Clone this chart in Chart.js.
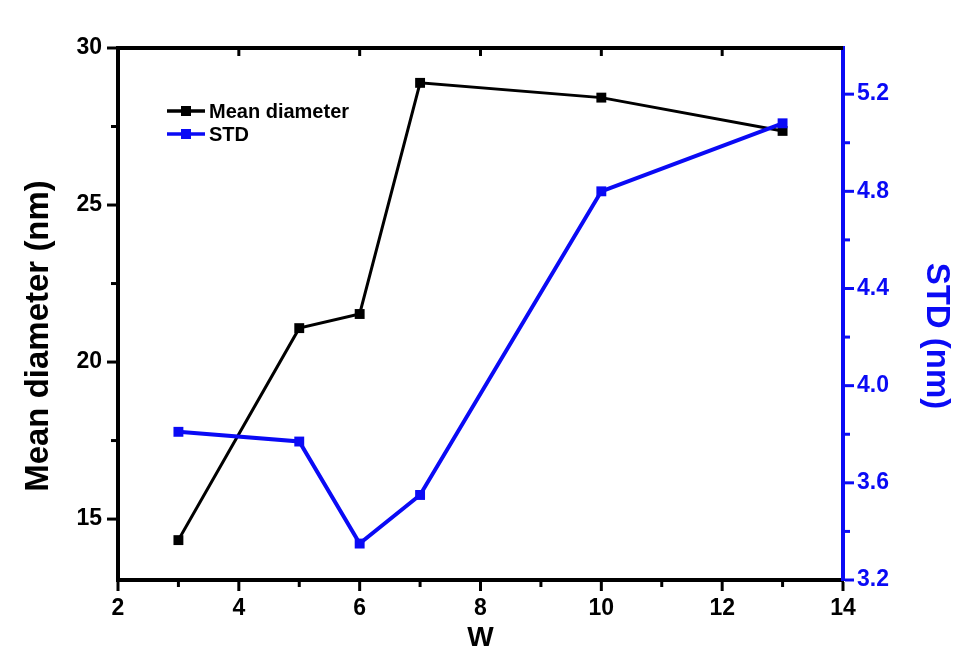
<!DOCTYPE html>
<html>
<head>
<meta charset="utf-8">
<script src="https://cdn.jsdelivr.net/npm/chart.js@4/dist/chart.umd.min.js"></script>
<style>
  html, body { margin: 0; padding: 0; background: #fff; }
  #wrap { position: relative; width: 970px; height: 666px; }
</style>
</head>
<body>
<div id="wrap"><canvas id="chart" width="970" height="666"></canvas></div>
<script>
// values
const wValues = [3, 5, 6, 7, 10, 13];
const meanDiameter = [14.33, 21.08, 21.53, 28.89, 28.42, 27.36];
const stdValues = [3.81, 3.77, 3.35, 3.55, 4.80, 5.08];

const xMajorTicks = [2, 4, 6, 8, 10, 12, 14];
const xMinorTicks = [3, 5, 7, 9, 11, 13];
const leftMajorTicks = [15, 20, 25, 30];
const leftMinorTicks = [17.5, 22.5, 27.5];
const rightMajorTicks = [3.2, 3.6, 4.0, 4.4, 4.8, 5.2];
const rightMinorTicks = [3.4, 3.8, 4.2, 4.6, 5.0];

const BLUE = '#0a0af5';
const FONT = '"Liberation Sans", Arial, sans-serif';

// outward major/minor ticks, the top frame line, and the two y titles
const tickMarks = {
  id: 'tickMarks',
  afterDraw(chart) {
    const { ctx, chartArea } = chart;
    const { x, y, y1 } = chart.scales;
    ctx.save();
    ctx.lineCap = 'butt';

    function mark(x0, y0, x1, y1c, color, width) {
      ctx.strokeStyle = color;
      ctx.lineWidth = width;
      ctx.beginPath();
      ctx.moveTo(x0, y0);
      ctx.lineTo(x1, y1c);
      ctx.stroke();
    }

    // top frame
    mark(chartArea.left - 2, chartArea.top, chartArea.right, chartArea.top, '#000', 4);

    const bottom = chartArea.bottom + 2;
    xMajorTicks.forEach(v => {
      const px = x.getPixelForValue(v);
      mark(px, bottom, px, bottom + 9, '#000', 3);
    });
    xMinorTicks.forEach(v => {
      const px = x.getPixelForValue(v);
      mark(px, bottom, px, bottom + 5, '#000', 3);
    });
    xMajorTicks.slice(1, -1).forEach(v => {
      const px = x.getPixelForValue(v);
      mark(px, chartArea.top, px, chartArea.top + 8, '#000', 3);
    });

    const left = chartArea.left - 2;
    leftMajorTicks.forEach(v => {
      const py = y.getPixelForValue(v);
      mark(left, py, left - 9, py, '#000', 3);
    });
    leftMinorTicks.forEach(v => {
      const py = y.getPixelForValue(v);
      mark(left, py, left - 5, py, '#000', 3);
    });

    const right = chartArea.right + 2;
    rightMajorTicks.forEach(v => {
      const py = y1.getPixelForValue(v);
      mark(right, py, right + 9, py, BLUE, 3);
    });
    rightMinorTicks.forEach(v => {
      const py = y1.getPixelForValue(v);
      mark(right, py, right + 5, py, BLUE, 3);
    });

    // y titles sit a little below the middle of the axes, as in the figure
    const midY = (chartArea.top + chartArea.bottom) / 2 + 22;
    ctx.font = 'bold 33px ' + FONT;
    ctx.textAlign = 'center';
    ctx.textBaseline = 'middle';

    ctx.save();
    ctx.translate(39, midY);
    ctx.rotate(-Math.PI / 2);
    ctx.fillStyle = '#000';
    ctx.fillText('Mean diameter (nm)', 0, 0);
    ctx.restore();

    ctx.save();
    ctx.translate(936, midY);
    ctx.rotate(Math.PI / 2);
    ctx.fillStyle = BLUE;
    ctx.fillText('STD (nm)', 0, 0);
    ctx.restore();

    ctx.restore();
  }
};

// legend sitting inside the plot, top-left
const innerLegend = {
  id: 'innerLegend',
  afterDatasetsDraw(chart) {
    const { ctx } = chart;
    const rows = [
      { ds: chart.data.datasets[0], y: 111 },
      { ds: chart.data.datasets[1], y: 134 }
    ];
    ctx.save();
    rows.forEach(row => {
      const color = row.ds.borderColor;
      ctx.strokeStyle = color;
      ctx.fillStyle = color;
      ctx.lineWidth = 3.5;
      ctx.beginPath();
      ctx.moveTo(167, row.y);
      ctx.lineTo(205, row.y);
      ctx.stroke();
      ctx.fillRect(181, row.y - 5, 10, 10);
      ctx.fillStyle = '#000';
      ctx.font = 'bold 20px ' + FONT;
      ctx.textBaseline = 'middle';
      ctx.textAlign = 'left';
      ctx.fillText(row.ds.label, 209, row.y + 1);
    });
    ctx.restore();
  }
};

const toPoints = (xs, ys) => xs.map((w, i) => ({ x: w, y: ys[i] }));

new Chart(document.getElementById('chart'), {
  type: 'line',
  data: {
    datasets: [
      {
        label: 'Mean diameter',
        data: toPoints(wValues, meanDiameter),
        yAxisID: 'y',
        borderColor: '#000',
        backgroundColor: '#000',
        borderWidth: 3,
        pointStyle: 'rect',
        pointRadius: 7,
        pointBorderWidth: 0,
        order: 1
      },
      {
        label: 'STD',
        data: toPoints(wValues, stdValues),
        yAxisID: 'y1',
        borderColor: BLUE,
        backgroundColor: BLUE,
        borderWidth: 4,
        pointStyle: 'rect',
        pointRadius: 7,
        pointBorderWidth: 0,
        order: 0
      }
    ]
  },
  options: {
    responsive: false,
    animation: false,
    layout: { padding: { top: 48, left: 0, right: 0, bottom: 0 } },
    plugins: {
      legend: { display: false },
      tooltip: { enabled: false }
    },
    scales: {
      x: {
        type: 'linear',
        position: 'bottom',
        min: 2,
        max: 14,
        afterBuildTicks: scale => { scale.ticks = xMajorTicks.map(v => ({ value: v })); },
        afterFit: scale => { scale.height = 86; },
        border: { display: true, color: '#000', width: 4 },
        grid: { drawOnChartArea: false, drawTicks: true, tickLength: 9, color: 'rgba(0,0,0,0)' },
        ticks: {
          color: '#000',
          padding: 6,
          maxRotation: 0,
          autoSkip: false,
          font: { family: FONT, size: 23, weight: 'bold' },
          callback: v => String(v)
        },
        title: {
          display: true,
          text: 'W',
          color: '#000',
          font: { family: FONT, size: 28, weight: 'bold' },
          padding: { top: 0, bottom: 11 }
        }
      },
      y: {
        type: 'linear',
        position: 'left',
        min: 13.06,
        max: 30,
        afterBuildTicks: scale => { scale.ticks = leftMajorTicks.map(v => ({ value: v })); },
        afterFit: scale => { scale.width = 118; },
        border: { display: true, color: '#000', width: 4 },
        grid: { drawOnChartArea: false, drawTicks: true, tickLength: 9, color: 'rgba(0,0,0,0)' },
        ticks: {
          color: '#000',
          padding: 7,
          autoSkip: false,
          font: { family: FONT, size: 23, weight: 'bold' },
          callback: v => String(v)
        }
      },
      y1: {
        type: 'linear',
        position: 'right',
        min: 3.2,
        max: 5.39,
        afterBuildTicks: scale => { scale.ticks = rightMajorTicks.map(v => ({ value: v })); },
        afterFit: scale => { scale.width = 127; },
        border: { display: true, color: BLUE, width: 4 },
        grid: { drawOnChartArea: false, drawTicks: true, tickLength: 9, color: 'rgba(0,0,0,0)' },
        ticks: {
          color: BLUE,
          padding: 5,
          autoSkip: false,
          font: { family: FONT, size: 23, weight: 'bold' },
          callback: v => Number(v).toFixed(1)
        }
      }
    }
  },
  plugins: [tickMarks, innerLegend]
});
</script>
</body>
</html>
